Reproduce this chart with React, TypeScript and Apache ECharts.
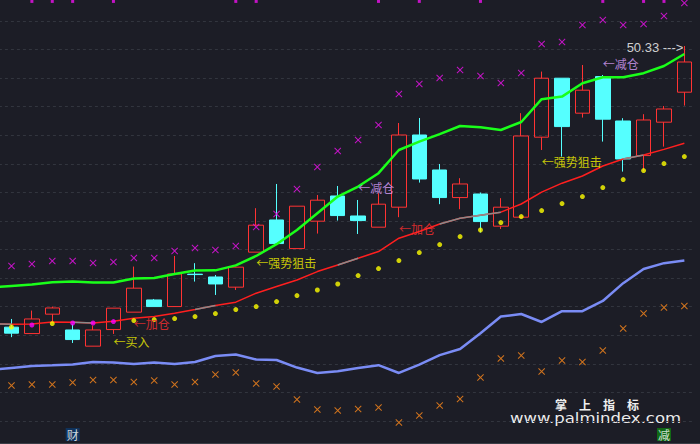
import React, { useEffect, useRef } from 'react';
import * as echarts from 'echarts';

// category 0 is the bar just left of the visible window (only its line values show)
const categories = [
  'D00', 'D01', 'D02', 'D03', 'D04', 'D05', 'D06', 'D07', 'D08', 'D09', 'D10', 'D11',
  'D12', 'D13', 'D14', 'D15', 'D16', 'D17', 'D18', 'D19', 'D20', 'D21', 'D22', 'D23',
  'D24', 'D25', 'D26', 'D27', 'D28', 'D29', 'D30', 'D31', 'D32', 'D33', 'D34',
];

// candles for D01..D34
const opens = [36.27, 35.95, 36.92, 36.13, 35.32, 36.15, 37.02, 37.63, 37.30, 38.92, 38.78, 38.27, 40.02, 41.63, 40.20, 41.57, 42.83, 41.83, 41.27, 42.27, 45.88, 44.13, 42.75, 42.93, 41.32, 41.77, 45.77, 48.72, 46.97, 48.80, 46.58, 44.85, 46.52, 48.02];
const closes = [35.97, 36.68, 37.23, 35.65, 36.13, 37.22, 38.22, 37.30, 38.93, 38.90, 38.43, 39.27, 41.37, 40.45, 42.32, 42.62, 41.85, 41.60, 42.42, 45.88, 43.68, 42.75, 43.43, 41.55, 42.27, 45.83, 48.72, 46.30, 48.12, 46.67, 44.68, 46.63, 47.18, 49.53];
const lows = [35.77, 35.95, 36.57, 35.48, 35.32, 35.93, 37.02, 37.30, 37.30, 38.55, 37.88, 38.13, 40.02, 40.45, 40.20, 40.95, 41.60, 40.93, 41.27, 41.77, 43.50, 42.42, 42.17, 41.00, 41.18, 41.77, 45.13, 44.80, 46.75, 45.55, 44.05, 44.08, 45.30, 47.35];
const highs = [36.68, 37.10, 37.30, 36.43, 36.35, 37.22, 39.30, 37.68, 39.83, 39.47, 38.88, 39.30, 42.22, 43.43, 42.32, 42.88, 43.33, 42.63, 42.97, 46.48, 46.73, 44.43, 43.72, 43.00, 42.72, 46.97, 49.05, 48.72, 49.38, 48.88, 46.72, 46.92, 47.33, 50.33];

// lines for D00..D34
const greenLine = [38.26, 38.33, 38.40, 38.52, 38.55, 38.50, 38.50, 38.70, 38.73, 38.93, 39.10, 39.11, 39.36, 39.83, 40.42, 41.13, 41.97, 42.80, 43.30, 43.97, 45.13, 45.55, 45.92, 46.33, 46.27, 46.13, 46.53, 47.67, 47.80, 48.47, 48.77, 48.77, 48.97, 49.33, 49.93];
const maLine = [36.43, 36.42, 36.43, 36.53, 36.52, 36.48, 36.57, 36.72, 36.80, 36.97, 37.15, 37.35, 37.52, 37.97, 38.30, 38.63, 39.05, 39.38, 39.72, 40.05, 40.72, 41.05, 41.43, 41.72, 41.87, 42.02, 42.43, 43.02, 43.47, 43.83, 44.33, 44.68, 44.88, 45.16, 45.47];
const maGraySpans = [[0, 1], [4, 5], [10, 11], [17, 18], [22, 25], [31, 32]];
const blueLine = [34.13, 34.23, 34.33, 34.36, 34.40, 34.53, 34.50, 34.43, 34.50, 34.43, 34.53, 34.83, 34.90, 34.65, 34.63, 34.25, 33.98, 34.07, 34.23, 34.37, 33.98, 34.40, 34.87, 35.18, 35.97, 36.80, 36.93, 36.53, 37.07, 37.07, 37.58, 38.47, 39.18, 39.47, 39.60];

// markers for D01..D34
const sarDots = [36.28, 36.38, 36.45, 36.48, 36.48, 36.55, 36.60, 36.65, 36.70, 36.80, 36.95, 37.15, 37.30, 37.55, 37.85, 38.13, 38.43, 38.85, 39.20, 39.60, 40.00, 40.40, 40.80, 41.13, 41.50, 41.80, 42.10, 42.45, 42.80, 43.25, 43.65, 44.10, 44.45, 44.80];
const sarMagentaIdx = [1, 3, 4, 5];
const upperCross = [39.33, 39.43, 39.58, 39.58, 39.48, 39.53, 39.73, 39.73, 40.08, 40.23, 40.13, 40.33, 41.28, 41.93, 43.18, 44.28, 45.08, 45.63, 46.38, 47.93, 48.43, 48.73, 49.13, 48.83, 48.48, 48.98, 50.43, 50.53, 51.38, 51.63, 51.38, 51.43, 51.83, 52.48];
const lowerCross = [33.35, 33.40, 33.40, 33.50, 33.63, 33.63, 33.53, 33.60, 33.40, 33.53, 33.90, 34.00, 33.45, 33.30, 32.65, 32.15, 32.10, 32.18, 32.25, 31.50, 31.85, 32.35, 32.68, 33.75, 34.70, 34.85, 34.05, 34.60, 34.53, 35.10, 36.20, 36.95, 37.25, 37.33];
const topTickIdx = [1, 2, 3, 5, 11, 12, 18, 20, 23, 29, 31, 32];
const topTickValue = 52.56;

// text annotations (index into D01..D34)
const noteIdx = [5, 6, 12, 17, 19, 26, 29];
const noteValue = [35.53, 36.43, 39.48, 43.23, 41.18, 44.53, 49.43];
const noteText = ['←买入', '←加仓', '←强势狙击', '←减仓', '←加仓', '←强势狙击', '←减仓'];
const noteColor = ['#f4f400', '#ff3030', '#f4f400', '#dca0ff', '#ff3030', '#f4f400', '#dca0ff'];

const signalIdx = [3, 32];
const signalText = ['财', '减'];
const signalBg = ['#0c3a6c', '#0f7d10'];
const signalValue = 30.9;

const CROSS = 'path://M0,1L1,0L5,4L9,0L10,1L6,5L10,9L9,10L5,6L1,10L0,9L4,5Z';

export default function App() {
  const ref = useRef<HTMLDivElement>(null);
  useEffect(() => {
    if (!ref.current) return;
    const chart = echarts.init(ref.current, null, { renderer: 'svg' });
    const cat = (i: number) => categories[i + 1];
    const candleData: any[] = ['-', ...opens.map((o, i) => [o, closes[i], lows[i], highs[i]])];
    const grayData = maLine.map((v, i) => (maGraySpans.some(([a, b]) => i >= a && i <= b) ? v : '-'));
    const last = highs.length - 1;

    const option: any = {
      animation: false,
      backgroundColor: '#1c1d26',
      grid: { left: -19.09, right: 5.44, top: -7.6, bottom: -5.55, outerBoundsMode: 'none', containLabel: false },
      xAxis: { type: 'category', data: categories, show: false, boundaryGap: true },
      yAxis: [
        { type: 'value', min: 30.15, max: 53.01, show: false },
        {
          type: 'value', min: 0, max: 16, interval: 1, position: 'right',
          axisLine: { show: false }, axisTick: { show: false }, axisLabel: { show: false },
          splitLine: { show: true, lineStyle: { color: '#32353e', type: [3, 3], width: 1 } },
        },
      ],
      series: [
        {
          type: 'candlestick', data: candleData, barWidth: 15, z: 2,
          itemStyle: { color: 'rgba(0,0,0,0)', color0: '#55ffff', borderColor: '#ff3333', borderColor0: '#55ffff', borderWidth: 1 },
        },
        { type: 'line', data: maLine, symbol: 'none', z: 3, lineStyle: { color: '#ff1f1f', width: 1.5 } },
        { type: 'line', data: grayData, symbol: 'none', z: 4, connectNulls: false, lineStyle: { color: '#8a8a8a', width: 1.5 } },
        { type: 'line', data: blueLine, symbol: 'none', z: 4, lineStyle: { color: '#7a8cf5', width: 2.5 } },
        { type: 'line', data: greenLine, symbol: 'none', z: 5, lineStyle: { color: '#1aff1a', width: 2.5 } },
        {
          type: 'scatter', z: 6, symbol: 'circle', symbolSize: 5,
          data: sarDots.map((v, i) => ({
            value: [cat(i), v],
            itemStyle: { color: sarMagentaIdx.includes(i) ? '#ff00ff' : '#ffff00' },
          })),
        },
        {
          type: 'scatter', z: 6, symbol: CROSS, symbolSize: 7, itemStyle: { color: '#ee11ee' },
          data: upperCross.map((v, i) => [cat(i), v]),
        },
        {
          type: 'scatter', z: 6, symbol: CROSS, symbolSize: 7, itemStyle: { color: '#ff8a1c' },
          data: lowerCross.map((v, i) => [cat(i), v]),
        },
        {
          type: 'scatter', z: 6, symbol: 'rect', symbolSize: [3, 3], itemStyle: { color: '#ee11ee' },
          data: topTickIdx.map((i) => [cat(i), topTickValue]),
        },
        {
          type: 'scatter', z: 7, symbolSize: 0,
          data: noteIdx.map((idx, k) => ({
            value: [cat(idx), noteValue[k]],
            label: {
              show: true, position: 'right', distance: 0, formatter: noteText[k],
              color: noteColor[k], fontSize: 12, fontFamily: 'Noto Sans CJK SC',
            },
          })),
        },
        {
          type: 'scatter', z: 7, symbolSize: 0,
          data: signalIdx.map((idx, k) => ({
            value: [cat(idx), signalValue],
            label: {
              show: true, position: 'inside', formatter: signalText[k], color: '#ffffff',
              fontSize: 12, fontFamily: 'Noto Sans CJK SC', backgroundColor: signalBg[k], padding: [1, 1, 0, 1],
            },
          })),
        },
        {
          type: 'scatter', z: 7, symbolSize: 0,
          data: [{
            value: [cat(last), highs[last]],
            label: {
              show: true, position: 'left', distance: 1, offset: [0, 2],
              formatter: `${highs[last].toFixed(2)} --->`, color: '#ffffff',
              fontSize: 13, fontFamily: 'Liberation Sans',
            },
          }],
        },
      ],
      graphic: [
        { type: 'rect', shape: { x: 0, y: 443, width: 700, height: 1 }, style: { fill: '#3a3d46' }, silent: true },
        {
          type: 'text', x: 555, y: 398, silent: true,
          style: { text: '掌　上　指　标', fill: '#f0f0f0', font: 'bold 12px "Noto Sans CJK SC"' },
        },
        {
          type: 'text', x: 510, y: 411, scaleX: 1.18, silent: true,
          style: { text: 'www.palmindex.com', fill: '#ececec', font: '14px "DejaVu Sans"' },
        },
      ],
    };
    chart.setOption(option);
    return () => chart.dispose();
  }, []);
  return <div ref={ref} style={{ position: 'fixed', left: 0, top: 0, width: 700, height: 444 }} />;
}
